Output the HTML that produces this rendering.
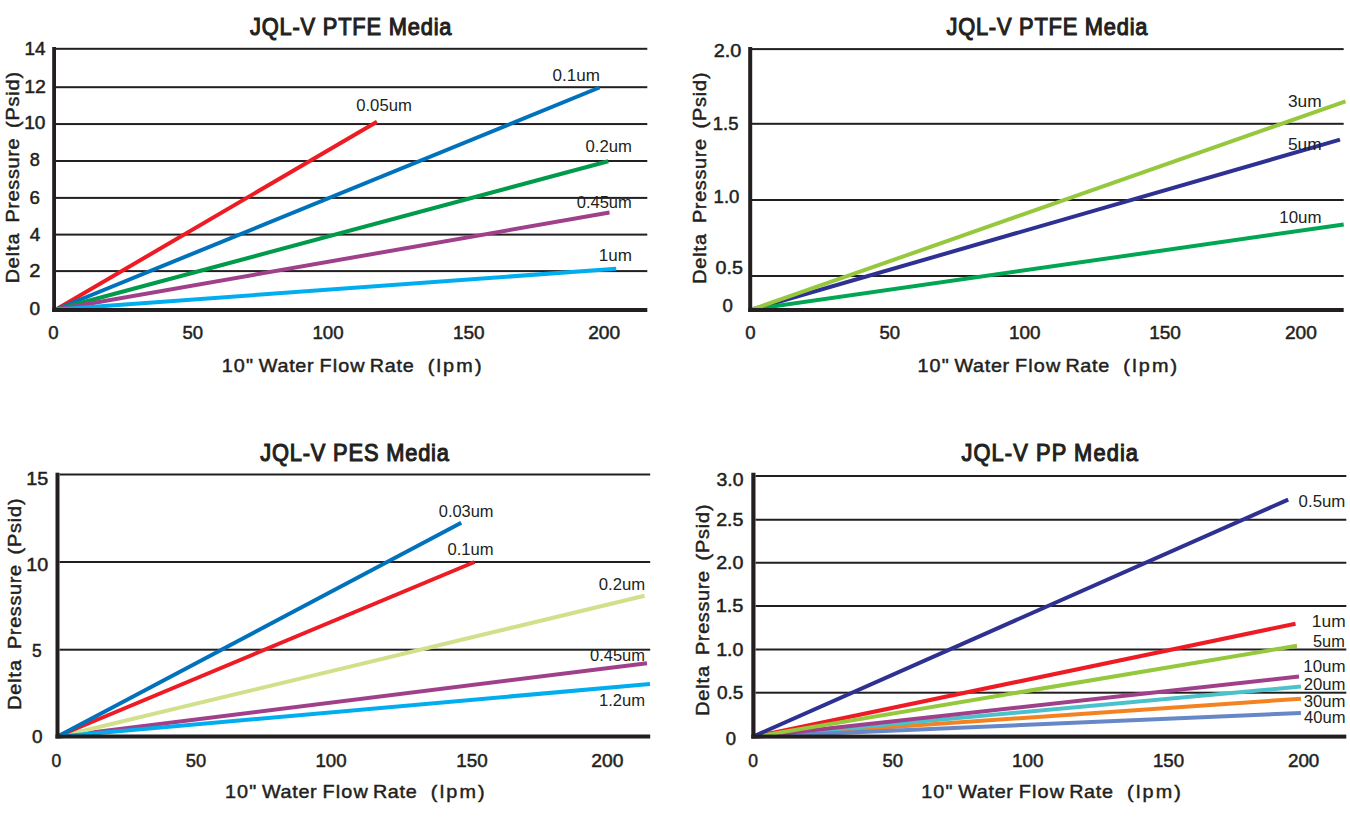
<!DOCTYPE html>
<html><head><meta charset="utf-8"><title>JQL-V Media Flow Charts</title>
<style>html,body{margin:0;padding:0;background:#ffffff;}svg{display:block;}text{font-family:"Liberation Sans",sans-serif;}</style></head>
<body><svg width="1350" height="823" viewBox="0 0 1350 823">
<rect width="1350" height="823" fill="#ffffff"/>
<rect x="56" y="47.8" width="591.3" height="2" fill="#231f20"/>
<rect x="56" y="86.2" width="591.3" height="2" fill="#231f20"/>
<rect x="56" y="123.05" width="591.3" height="2" fill="#231f20"/>
<rect x="56" y="160.0" width="591.3" height="2" fill="#231f20"/>
<rect x="56" y="196.9" width="591.3" height="2" fill="#231f20"/>
<rect x="56" y="233.6" width="591.3" height="2" fill="#231f20"/>
<rect x="56" y="270.1" width="591.3" height="2" fill="#231f20"/>
<line x1="56" y1="309.5" x2="377" y2="121.75" stroke="#ed1c24" stroke-width="4"/>
<line x1="56" y1="309.5" x2="599.5" y2="87.5" stroke="#0072bc" stroke-width="4"/>
<line x1="56" y1="309.5" x2="608.25" y2="161.25" stroke="#009a4b" stroke-width="4"/>
<line x1="56" y1="309.5" x2="609.5" y2="212.5" stroke="#a0408a" stroke-width="4"/>
<line x1="56" y1="309.5" x2="616.25" y2="268.75" stroke="#00aeef" stroke-width="4"/>
<rect x="52.2" y="47" width="3.799999999999997" height="265" fill="#231f20"/>
<rect x="52.2" y="308" width="595.0999999999999" height="4" fill="#231f20"/>
<rect x="752" y="48.1" width="591.7" height="2" fill="#231f20"/>
<rect x="752" y="122.8" width="591.7" height="2" fill="#231f20"/>
<rect x="752" y="199.0" width="591.7" height="2" fill="#231f20"/>
<rect x="752" y="275.0" width="591.7" height="2" fill="#231f20"/>
<line x1="752" y1="309.5" x2="1340" y2="139.7" stroke="#2e3192" stroke-width="4"/>
<line x1="752" y1="309.5" x2="1343.7" y2="224.5" stroke="#00a651" stroke-width="4"/>
<line x1="752" y1="309.5" x2="1345.5" y2="101.4" stroke="#95c83d" stroke-width="4"/>
<rect x="748.2" y="47" width="4.0" height="265" fill="#231f20"/>
<rect x="748.2" y="308" width="595.5" height="4" fill="#231f20"/>
<rect x="59.5" y="473.5" width="590.7" height="2" fill="#231f20"/>
<rect x="59.5" y="561.0" width="590.7" height="2" fill="#231f20"/>
<rect x="59.5" y="648.7" width="590.7" height="2" fill="#231f20"/>
<line x1="59.5" y1="736.5" x2="647" y2="663.25" stroke="#a0408a" stroke-width="4"/>
<line x1="59.5" y1="736.5" x2="644.5" y2="595.75" stroke="#d1e08a" stroke-width="4"/>
<line x1="59.5" y1="735.5" x2="474.5" y2="562" stroke="#ed1c24" stroke-width="4"/>
<line x1="59.5" y1="735.5" x2="461.25" y2="522.75" stroke="#0072bc" stroke-width="4"/>
<line x1="59.5" y1="736.5" x2="650" y2="684" stroke="#00aeef" stroke-width="4"/>
<rect x="55.5" y="472.7" width="4.0" height="265.8" fill="#231f20"/>
<rect x="55.5" y="734.5" width="594.7" height="4" fill="#231f20"/>
<rect x="755.5" y="475.0" width="590.8" height="2" fill="#231f20"/>
<rect x="755.5" y="518.75" width="590.8" height="2" fill="#231f20"/>
<rect x="755.5" y="561.75" width="590.8" height="2" fill="#231f20"/>
<rect x="755.5" y="605.0" width="590.8" height="2" fill="#231f20"/>
<rect x="755.5" y="648.5" width="590.8" height="2" fill="#231f20"/>
<rect x="755.5" y="691.7" width="590.8" height="2" fill="#231f20"/>
<line x1="755.5" y1="736.5" x2="1300.9" y2="698.7" stroke="#f58220" stroke-width="4"/>
<line x1="755.5" y1="736.5" x2="1300.9" y2="686.6" stroke="#4bc1cb" stroke-width="4"/>
<line x1="755.5" y1="736.5" x2="1300.9" y2="713" stroke="#6688c6" stroke-width="4"/>
<line x1="755.5" y1="736.5" x2="1299" y2="676.6" stroke="#a0408a" stroke-width="4"/>
<line x1="755.5" y1="736.5" x2="1295.5" y2="623.7" stroke="#ed1c24" stroke-width="4"/>
<line x1="755.5" y1="736.5" x2="1297" y2="645.8" stroke="#95c83d" stroke-width="4"/>
<line x1="755.5" y1="735.5" x2="1288.2" y2="499.6" stroke="#2e3192" stroke-width="4"/>
<rect x="751.3" y="472.75" width="4.2000000000000455" height="265.85" fill="#231f20"/>
<rect x="751.3" y="734.6" width="595.0" height="4" fill="#231f20"/>
<text transform="translate(249.8,34.95) scale(0.93,1)" x="0.25" y="0" font-size="23.5" font-weight="normal" fill="#231f20" stroke="#231f20" stroke-width="1.1" letter-spacing="0.861">JQL-V PTFE Media</text>
<text x="24.52" y="54.65" font-size="18.5" font-weight="normal" fill="#231f20" stroke="#231f20" stroke-width="0.5" textLength="21.01" lengthAdjust="spacingAndGlyphs">14</text>
<text x="24.18" y="92.65" font-size="18.5" font-weight="normal" fill="#231f20" stroke="#231f20" stroke-width="0.5" textLength="21.73" lengthAdjust="spacingAndGlyphs">12</text>
<text x="24.21" y="128.95" font-size="18.5" font-weight="normal" fill="#231f20" stroke="#231f20" stroke-width="0.5" textLength="21.29" lengthAdjust="spacingAndGlyphs">10</text>
<text x="29.81" y="166.25" font-size="18.5" font-weight="normal" fill="#231f20" stroke="#231f20" stroke-width="0.5" textLength="10.13" lengthAdjust="spacingAndGlyphs">8</text>
<text x="29.54" y="203.95" font-size="18.5" font-weight="normal" fill="#231f20" stroke="#231f20" stroke-width="0.5" textLength="10.41" lengthAdjust="spacingAndGlyphs">6</text>
<text x="29.74" y="240.95" font-size="18.5" font-weight="normal" fill="#231f20" stroke="#231f20" stroke-width="0.5" textLength="10.56" lengthAdjust="spacingAndGlyphs">4</text>
<text x="29.19" y="277.25" font-size="18.5" font-weight="normal" fill="#231f20" stroke="#231f20" stroke-width="0.5" textLength="11.18" lengthAdjust="spacingAndGlyphs">2</text>
<text x="29.49" y="314.55" font-size="18.5" font-weight="normal" fill="#231f20" stroke="#231f20" stroke-width="0.5" textLength="10.58" lengthAdjust="spacingAndGlyphs">0</text>
<text x="48.20" y="339.35" font-size="18.5" font-weight="normal" fill="#231f20" stroke="#231f20" stroke-width="0.5" textLength="10.35" lengthAdjust="spacingAndGlyphs">0</text>
<text x="182.50" y="339.35" font-size="18.5" font-weight="normal" fill="#231f20" stroke="#231f20" stroke-width="0.5" textLength="20.58" lengthAdjust="spacingAndGlyphs">50</text>
<text x="312.44" y="339.35" font-size="18.5" font-weight="normal" fill="#231f20" stroke="#231f20" stroke-width="0.5" textLength="31.19" lengthAdjust="spacingAndGlyphs">100</text>
<text x="453.02" y="339.35" font-size="18.5" font-weight="normal" fill="#231f20" stroke="#231f20" stroke-width="0.5" textLength="31.62" lengthAdjust="spacingAndGlyphs">150</text>
<text x="588.22" y="339.35" font-size="18.5" font-weight="normal" fill="#231f20" stroke="#231f20" stroke-width="0.5" textLength="31.92" lengthAdjust="spacingAndGlyphs">200</text>
<text transform="translate(223.1,371.775) scale(1.1,1)" x="-1.25" y="0" font-size="18" font-weight="normal" fill="#231f20" stroke="#231f20" stroke-width="0.45" letter-spacing="1.023">10&quot;</text>
<text transform="translate(258.6,371.775) scale(1.1,1)" x="0.25" y="0" font-size="18" font-weight="normal" fill="#231f20" stroke="#231f20" stroke-width="0.45" letter-spacing="0.602">Water</text>
<text transform="translate(320.8,371.775) scale(1.1,1)" x="-1.25" y="0" font-size="18" font-weight="normal" fill="#231f20" stroke="#231f20" stroke-width="0.45" letter-spacing="1.030">Flow</text>
<text transform="translate(371.1,371.775) scale(1.1,1)" x="-1.25" y="0" font-size="18" font-weight="normal" fill="#231f20" stroke="#231f20" stroke-width="0.45" letter-spacing="0.644">Rate</text>
<text transform="translate(428.8,371.775) scale(1.1,1)" x="-1.00" y="0" font-size="18" font-weight="normal" fill="#231f20" stroke="#231f20" stroke-width="0.45" letter-spacing="2.000">(lpm)</text>
<text transform="translate(18.674999999999997,282) rotate(-90) scale(1.1,1)" x="-1.25" y="0" font-size="18" font-weight="normal" fill="#231f20" stroke="#231f20" stroke-width="0.45" letter-spacing="0.830">Delta</text>
<text transform="translate(18.674999999999997,221.2) rotate(-90) scale(1.1,1)" x="-1.25" y="0" font-size="18" font-weight="normal" fill="#231f20" stroke="#231f20" stroke-width="0.45" letter-spacing="0.653">Pressure</text>
<text transform="translate(18.674999999999997,126.9) rotate(-90) scale(1.1,1)" x="-1.00" y="0" font-size="18" font-weight="normal" fill="#231f20" stroke="#231f20" stroke-width="0.45" letter-spacing="0.800">(Psid)</text>
<text x="356.24" y="111.25" font-size="16.5" font-weight="normal" fill="#231f20" textLength="55.56" lengthAdjust="spacingAndGlyphs">0.05um</text>
<text x="552.53" y="80.5" font-size="16.5" font-weight="normal" fill="#231f20" textLength="47.32" lengthAdjust="spacingAndGlyphs">0.1um</text>
<text x="585.49" y="151.75" font-size="16.5" font-weight="normal" fill="#231f20" textLength="46.38" lengthAdjust="spacingAndGlyphs">0.2um</text>
<text x="576.75" y="207.5" font-size="16.5" font-weight="normal" fill="#231f20" textLength="55.05" lengthAdjust="spacingAndGlyphs">0.45um</text>
<text x="598.71" y="260.75" font-size="16.5" font-weight="normal" fill="#231f20" textLength="33.19" lengthAdjust="spacingAndGlyphs">1um</text>
<text transform="translate(946.25,34.95) scale(0.93,1)" x="0.25" y="0" font-size="23.5" font-weight="normal" fill="#231f20" stroke="#231f20" stroke-width="1.1" letter-spacing="0.829">JQL-V PTFE Media</text>
<text x="713.69" y="56.55" font-size="18.5" font-weight="normal" fill="#231f20" stroke="#231f20" stroke-width="0.5" textLength="27.61" lengthAdjust="spacingAndGlyphs">2.0</text>
<text x="712.86" y="129.65" font-size="18.5" font-weight="normal" fill="#231f20" stroke="#231f20" stroke-width="0.5" textLength="25.61" lengthAdjust="spacingAndGlyphs">1.5</text>
<text x="713.64" y="202.75" font-size="18.5" font-weight="normal" fill="#231f20" stroke="#231f20" stroke-width="0.5" textLength="25.83" lengthAdjust="spacingAndGlyphs">1.0</text>
<text x="715.47" y="274.15" font-size="18.5" font-weight="normal" fill="#231f20" stroke="#231f20" stroke-width="0.5" textLength="27.43" lengthAdjust="spacingAndGlyphs">0.5</text>
<text x="722.40" y="312.45" font-size="18.5" font-weight="normal" fill="#231f20" stroke="#231f20" stroke-width="0.5" textLength="10.35" lengthAdjust="spacingAndGlyphs">0</text>
<text x="745.20" y="339.35" font-size="18.5" font-weight="normal" fill="#231f20" stroke="#231f20" stroke-width="0.5" textLength="10.35" lengthAdjust="spacingAndGlyphs">0</text>
<text x="879.50" y="339.35" font-size="18.5" font-weight="normal" fill="#231f20" stroke="#231f20" stroke-width="0.5" textLength="20.58" lengthAdjust="spacingAndGlyphs">50</text>
<text x="1009.12" y="339.35" font-size="18.5" font-weight="normal" fill="#231f20" stroke="#231f20" stroke-width="0.5" textLength="31.51" lengthAdjust="spacingAndGlyphs">100</text>
<text x="1149.22" y="339.35" font-size="18.5" font-weight="normal" fill="#231f20" stroke="#231f20" stroke-width="0.5" textLength="31.73" lengthAdjust="spacingAndGlyphs">150</text>
<text x="1284.92" y="339.35" font-size="18.5" font-weight="normal" fill="#231f20" stroke="#231f20" stroke-width="0.5" textLength="31.92" lengthAdjust="spacingAndGlyphs">200</text>
<text transform="translate(918.75,371.775) scale(1.1,1)" x="-1.25" y="0" font-size="18" font-weight="normal" fill="#231f20" stroke="#231f20" stroke-width="0.45" letter-spacing="1.023">10&quot;</text>
<text transform="translate(954.25,371.775) scale(1.1,1)" x="0.25" y="0" font-size="18" font-weight="normal" fill="#231f20" stroke="#231f20" stroke-width="0.45" letter-spacing="0.602">Water</text>
<text transform="translate(1016.45,371.775) scale(1.1,1)" x="-1.25" y="0" font-size="18" font-weight="normal" fill="#231f20" stroke="#231f20" stroke-width="0.45" letter-spacing="1.030">Flow</text>
<text transform="translate(1066.75,371.775) scale(1.1,1)" x="-1.25" y="0" font-size="18" font-weight="normal" fill="#231f20" stroke="#231f20" stroke-width="0.45" letter-spacing="0.644">Rate</text>
<text transform="translate(1124.45,371.775) scale(1.1,1)" x="-1.00" y="0" font-size="18" font-weight="normal" fill="#231f20" stroke="#231f20" stroke-width="0.45" letter-spacing="2.000">(lpm)</text>
<text transform="translate(706.375,282.5) rotate(-90) scale(1.1,1)" x="-1.25" y="0" font-size="18" font-weight="normal" fill="#231f20" stroke="#231f20" stroke-width="0.45" letter-spacing="0.830">Delta</text>
<text transform="translate(706.375,221.7) rotate(-90) scale(1.1,1)" x="-1.25" y="0" font-size="18" font-weight="normal" fill="#231f20" stroke="#231f20" stroke-width="0.45" letter-spacing="0.653">Pressure</text>
<text transform="translate(706.375,127.4) rotate(-90) scale(1.1,1)" x="-1.00" y="0" font-size="18" font-weight="normal" fill="#231f20" stroke="#231f20" stroke-width="0.45" letter-spacing="0.800">(Psid)</text>
<text x="1287.91" y="107.2" font-size="16.5" font-weight="normal" fill="#231f20" textLength="33.75" lengthAdjust="spacingAndGlyphs">3um</text>
<text x="1287.91" y="149.5" font-size="16.5" font-weight="normal" fill="#231f20" textLength="33.75" lengthAdjust="spacingAndGlyphs">5um</text>
<text x="1279.32" y="223.0" font-size="16.5" font-weight="normal" fill="#231f20" textLength="42.23" lengthAdjust="spacingAndGlyphs">10um</text>
<text transform="translate(260,460.95) scale(0.93,1)" x="0.25" y="0" font-size="23.5" font-weight="normal" fill="#231f20" stroke="#231f20" stroke-width="1.1" letter-spacing="0.876">JQL-V PES Media</text>
<text x="26.17" y="484.95" font-size="18.5" font-weight="normal" fill="#231f20" stroke="#231f20" stroke-width="0.5" textLength="21.95" lengthAdjust="spacingAndGlyphs">15</text>
<text x="26.17" y="571.25" font-size="18.5" font-weight="normal" fill="#231f20" stroke="#231f20" stroke-width="0.5" textLength="21.95" lengthAdjust="spacingAndGlyphs">10</text>
<text x="32.03" y="657.25" font-size="18.5" font-weight="normal" fill="#231f20" stroke="#231f20" stroke-width="0.5" textLength="9.68" lengthAdjust="spacingAndGlyphs">5</text>
<text x="31.99" y="743.0" font-size="18.5" font-weight="normal" fill="#231f20" stroke="#231f20" stroke-width="0.5" textLength="10.58" lengthAdjust="spacingAndGlyphs">0</text>
<text x="51.53" y="766.65" font-size="18.5" font-weight="normal" fill="#231f20" stroke="#231f20" stroke-width="0.5" textLength="9.74" lengthAdjust="spacingAndGlyphs">0</text>
<text x="185.76" y="766.65" font-size="18.5" font-weight="normal" fill="#231f20" stroke="#231f20" stroke-width="0.5" textLength="20.31" lengthAdjust="spacingAndGlyphs">50</text>
<text x="315.44" y="766.65" font-size="18.5" font-weight="normal" fill="#231f20" stroke="#231f20" stroke-width="0.5" textLength="31.19" lengthAdjust="spacingAndGlyphs">100</text>
<text x="456.23" y="766.65" font-size="18.5" font-weight="normal" fill="#231f20" stroke="#231f20" stroke-width="0.5" textLength="31.41" lengthAdjust="spacingAndGlyphs">150</text>
<text x="591.22" y="766.65" font-size="18.5" font-weight="normal" fill="#231f20" stroke="#231f20" stroke-width="0.5" textLength="32.18" lengthAdjust="spacingAndGlyphs">200</text>
<text transform="translate(226.25,797.775) scale(1.1,1)" x="-1.25" y="0" font-size="18" font-weight="normal" fill="#231f20" stroke="#231f20" stroke-width="0.45" letter-spacing="1.023">10&quot;</text>
<text transform="translate(261.75,797.775) scale(1.1,1)" x="0.25" y="0" font-size="18" font-weight="normal" fill="#231f20" stroke="#231f20" stroke-width="0.45" letter-spacing="0.602">Water</text>
<text transform="translate(323.95000000000005,797.775) scale(1.1,1)" x="-1.25" y="0" font-size="18" font-weight="normal" fill="#231f20" stroke="#231f20" stroke-width="0.45" letter-spacing="1.030">Flow</text>
<text transform="translate(374.25,797.775) scale(1.1,1)" x="-1.25" y="0" font-size="18" font-weight="normal" fill="#231f20" stroke="#231f20" stroke-width="0.45" letter-spacing="0.644">Rate</text>
<text transform="translate(431.95000000000005,797.775) scale(1.1,1)" x="-1.00" y="0" font-size="18" font-weight="normal" fill="#231f20" stroke="#231f20" stroke-width="0.45" letter-spacing="2.000">(lpm)</text>
<text transform="translate(21.375,708.5) rotate(-90) scale(1.1,1)" x="-1.25" y="0" font-size="18" font-weight="normal" fill="#231f20" stroke="#231f20" stroke-width="0.45" letter-spacing="0.830">Delta</text>
<text transform="translate(21.375,647.7) rotate(-90) scale(1.1,1)" x="-1.25" y="0" font-size="18" font-weight="normal" fill="#231f20" stroke="#231f20" stroke-width="0.45" letter-spacing="0.653">Pressure</text>
<text transform="translate(21.375,553.4) rotate(-90) scale(1.1,1)" x="-1.00" y="0" font-size="18" font-weight="normal" fill="#231f20" stroke="#231f20" stroke-width="0.45" letter-spacing="0.800">(Psid)</text>
<text x="438.75" y="517.0" font-size="16.5" font-weight="normal" fill="#231f20" textLength="54.79" lengthAdjust="spacingAndGlyphs">0.03um</text>
<text x="447.50" y="554.5" font-size="16.5" font-weight="normal" fill="#231f20" textLength="46.12" lengthAdjust="spacingAndGlyphs">0.1um</text>
<text x="598.74" y="590.0" font-size="16.5" font-weight="normal" fill="#231f20" textLength="46.38" lengthAdjust="spacingAndGlyphs">0.2um</text>
<text x="590.00" y="660.75" font-size="16.5" font-weight="normal" fill="#231f20" textLength="55.05" lengthAdjust="spacingAndGlyphs">0.45um</text>
<text x="598.99" y="706.25" font-size="16.5" font-weight="normal" fill="#231f20" textLength="46.12" lengthAdjust="spacingAndGlyphs">1.2um</text>
<text transform="translate(961.25,460.95) scale(0.93,1)" x="0.25" y="0" font-size="23.5" font-weight="normal" fill="#231f20" stroke="#231f20" stroke-width="1.1" letter-spacing="1.172">JQL-V PP Media</text>
<text x="716.47" y="486.25" font-size="18.5" font-weight="normal" fill="#231f20" stroke="#231f20" stroke-width="0.5" textLength="27.02" lengthAdjust="spacingAndGlyphs">3.0</text>
<text x="716.20" y="526.25" font-size="18.5" font-weight="normal" fill="#231f20" stroke="#231f20" stroke-width="0.5" textLength="27.29" lengthAdjust="spacingAndGlyphs">2.5</text>
<text x="716.20" y="568.75" font-size="18.5" font-weight="normal" fill="#231f20" stroke="#231f20" stroke-width="0.5" textLength="27.29" lengthAdjust="spacingAndGlyphs">2.0</text>
<text x="715.65" y="612.25" font-size="18.5" font-weight="normal" fill="#231f20" stroke="#231f20" stroke-width="0.5" textLength="27.86" lengthAdjust="spacingAndGlyphs">1.5</text>
<text x="716.17" y="655.5" font-size="18.5" font-weight="normal" fill="#231f20" stroke="#231f20" stroke-width="0.5" textLength="27.33" lengthAdjust="spacingAndGlyphs">1.0</text>
<text x="716.98" y="699.25" font-size="18.5" font-weight="normal" fill="#231f20" stroke="#231f20" stroke-width="0.5" textLength="26.50" lengthAdjust="spacingAndGlyphs">0.5</text>
<text x="725.75" y="744.75" font-size="18.5" font-weight="normal" fill="#231f20" stroke="#231f20" stroke-width="0.5" textLength="10.30" lengthAdjust="spacingAndGlyphs">0</text>
<text x="748.28" y="766.65" font-size="18.5" font-weight="normal" fill="#231f20" stroke="#231f20" stroke-width="0.5" textLength="9.74" lengthAdjust="spacingAndGlyphs">0</text>
<text x="882.50" y="766.65" font-size="18.5" font-weight="normal" fill="#231f20" stroke="#231f20" stroke-width="0.5" textLength="20.58" lengthAdjust="spacingAndGlyphs">50</text>
<text x="1012.12" y="766.65" font-size="18.5" font-weight="normal" fill="#231f20" stroke="#231f20" stroke-width="0.5" textLength="31.51" lengthAdjust="spacingAndGlyphs">100</text>
<text x="1152.94" y="766.65" font-size="18.5" font-weight="normal" fill="#231f20" stroke="#231f20" stroke-width="0.5" textLength="31.19" lengthAdjust="spacingAndGlyphs">150</text>
<text x="1287.94" y="766.65" font-size="18.5" font-weight="normal" fill="#231f20" stroke="#231f20" stroke-width="0.5" textLength="31.40" lengthAdjust="spacingAndGlyphs">200</text>
<text transform="translate(922.5,797.775) scale(1.1,1)" x="-1.25" y="0" font-size="18" font-weight="normal" fill="#231f20" stroke="#231f20" stroke-width="0.45" letter-spacing="1.023">10&quot;</text>
<text transform="translate(958.0,797.775) scale(1.1,1)" x="0.25" y="0" font-size="18" font-weight="normal" fill="#231f20" stroke="#231f20" stroke-width="0.45" letter-spacing="0.602">Water</text>
<text transform="translate(1020.2,797.775) scale(1.1,1)" x="-1.25" y="0" font-size="18" font-weight="normal" fill="#231f20" stroke="#231f20" stroke-width="0.45" letter-spacing="1.030">Flow</text>
<text transform="translate(1070.5,797.775) scale(1.1,1)" x="-1.25" y="0" font-size="18" font-weight="normal" fill="#231f20" stroke="#231f20" stroke-width="0.45" letter-spacing="0.644">Rate</text>
<text transform="translate(1128.2,797.775) scale(1.1,1)" x="-1.00" y="0" font-size="18" font-weight="normal" fill="#231f20" stroke="#231f20" stroke-width="0.45" letter-spacing="2.000">(lpm)</text>
<text transform="translate(709.275,714.5) rotate(-90) scale(1.1,1)" x="-1.25" y="0" font-size="18" font-weight="normal" fill="#231f20" stroke="#231f20" stroke-width="0.45" letter-spacing="0.830">Delta</text>
<text transform="translate(709.275,653.7) rotate(-90) scale(1.1,1)" x="-1.25" y="0" font-size="18" font-weight="normal" fill="#231f20" stroke="#231f20" stroke-width="0.45" letter-spacing="0.653">Pressure</text>
<text transform="translate(709.275,559.4) rotate(-90) scale(1.1,1)" x="-1.00" y="0" font-size="18" font-weight="normal" fill="#231f20" stroke="#231f20" stroke-width="0.45" letter-spacing="0.800">(Psid)</text>
<text x="1298.64" y="507.1" font-size="16.5" font-weight="normal" fill="#231f20" textLength="46.69" lengthAdjust="spacingAndGlyphs">0.5um</text>
<text x="1311.88" y="627.2" font-size="16.5" font-weight="normal" fill="#231f20" textLength="33.78" lengthAdjust="spacingAndGlyphs">1um</text>
<text x="1312.96" y="646.6" font-size="16.5" font-weight="normal" fill="#231f20" textLength="31.84" lengthAdjust="spacingAndGlyphs">5um</text>
<text x="1303.22" y="671.9" font-size="16.5" font-weight="normal" fill="#231f20" textLength="42.34" lengthAdjust="spacingAndGlyphs">10um</text>
<text x="1303.74" y="689.7" font-size="16.5" font-weight="normal" fill="#231f20" textLength="41.80" lengthAdjust="spacingAndGlyphs">20um</text>
<text x="1303.74" y="707.4" font-size="16.5" font-weight="normal" fill="#231f20" textLength="41.80" lengthAdjust="spacingAndGlyphs">30um</text>
<text x="1304.00" y="722.9" font-size="16.5" font-weight="normal" fill="#231f20" textLength="41.54" lengthAdjust="spacingAndGlyphs">40um</text>
</svg></body></html>
